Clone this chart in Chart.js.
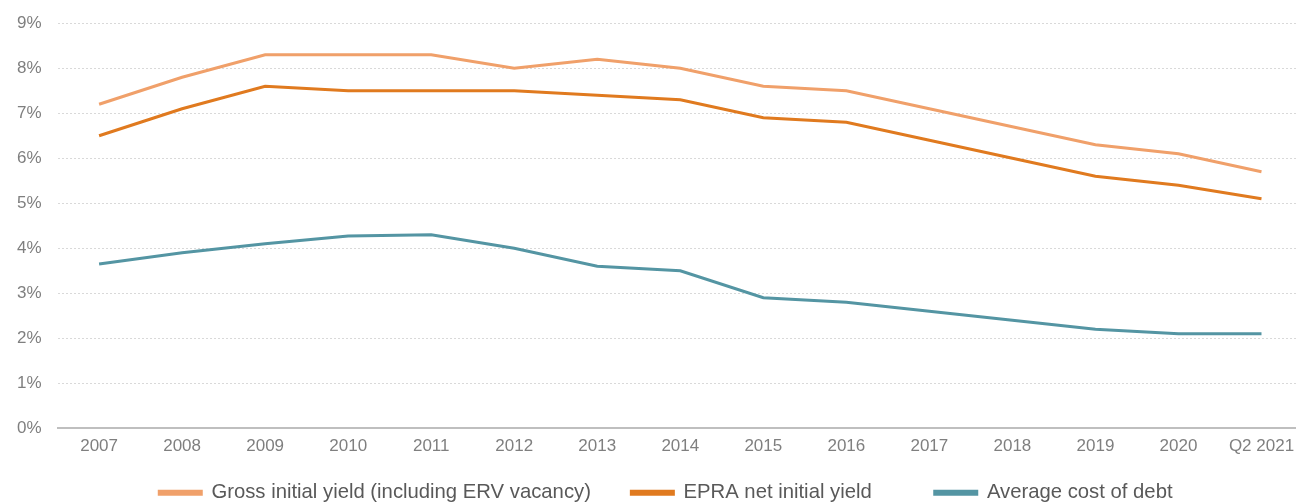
<!DOCTYPE html>
<html>
<head>
<meta charset="utf-8">
<script src="https://cdn.jsdelivr.net/npm/chart.js@4/dist/chart.umd.min.js"></script>
<style>
  html, body { margin: 0; padding: 0; background: #fff; overflow: hidden; }
  #wrap { width: 1303px; height: 513px; }
</style>
</head>
<body>
<div id="wrap"><canvas id="yieldChart"></canvas></div>
<script>
// data
const years = ['2007', '2008', '2009', '2010', '2011', '2012', '2013', '2014',
               '2015', '2016', '2017', '2018', '2019', '2020', 'Q2 2021'];
const grossYield = [7.2, 7.8, 8.3, 8.3, 8.3, 8.0, 8.2, 8.0, 7.6, 7.5, 7.1, 6.7, 6.3, 6.1, 5.7];
const epraYield  = [6.5, 7.1, 7.6, 7.5, 7.5, 7.5, 7.4, 7.3, 6.9, 6.8, 6.4, 6.0, 5.6, 5.4, 5.1];
const costOfDebt = [3.65, 3.9, 4.1, 4.27, 4.3, 4.0, 3.6, 3.5, 2.9, 2.8, 2.6, 2.4, 2.2, 2.1, 2.1];

const seriesLabels = ['Gross initial yield (including ERV vacancy)', 'EPRA net initial yield', 'Average cost of debt'];
// trailing spaces per legend entry, to reproduce the uneven gaps of the original legend
const legendGaps = [7, 11, 5];

Chart.defaults.font.family = '"Liberation Sans", Arial, sans-serif';
Chart.defaults.color = '#7f7f7f';

function line(label, data, color) {
    return {
        label: label,
        data: data,
        borderColor: color,
        backgroundColor: color,
        borderWidth: 3,
        pointRadius: 0,
        tension: 0,
        fill: false
    };
}

// the original legend sits a little right of centre
const legendShift = {
    id: 'legendShift',
    afterLayout(chart) {
        chart.legend.left += 28;
        chart.legend.right += 28;
    }
};

const ctx = document.getElementById('yieldChart').getContext('2d');
new Chart(ctx, {
    type: 'line',
    data: {
        labels: years,
        datasets: [
            line(seriesLabels[0], grossYield, '#f0a06a'),
            line(seriesLabels[1], epraYield, '#e07a1f'),
            line(seriesLabels[2], costOfDebt, '#5495a3')
        ]
    },
    options: {
        responsive: true,
        maintainAspectRatio: false,
        animation: false,
        layout: { padding: { top: 0, right: 0, left: 1, bottom: 0 } },
        plugins: {
            legend: {
                position: 'bottom',
                labels: {
                    boxWidth: 42,
                    boxHeight: 3,
                    padding: 1,
                    color: '#595959',
                    font: { size: 20.3 },
                    generateLabels: chart => {
                        const items = Chart.defaults.plugins.legend.labels.generateLabels(chart);
                        items.forEach((it, i) => {
                            it.text = it.text + ' '.repeat(legendGaps[i]);
                        });
                        return items;
                    }
                }
            },
            tooltip: { enabled: false }
        },
        scales: {
            y: {
                min: 0,
                max: 9,
                ticks: {
                    stepSize: 1,
                    padding: 16,
                    font: { size: 17 },
                    callback: v => v + '%'
                },
                grid: { color: '#d9d9d9', drawTicks: false },
                border: { display: false, dash: [2, 2] },
                afterFit: scale => { scale.paddingTop -= 3; }
            },
            x: {
                offset: true,
                ticks: { padding: 0, font: { size: 17 }, maxRotation: 0, autoSkip: false },
                grid: { display: false, offset: true },
                border: { display: true, color: '#bfbfbf', width: 2 },
                afterFit: scale => { scale.height += 25; }
            }
        }
    },
    plugins: [legendShift]
});
</script>
</body>
</html>
